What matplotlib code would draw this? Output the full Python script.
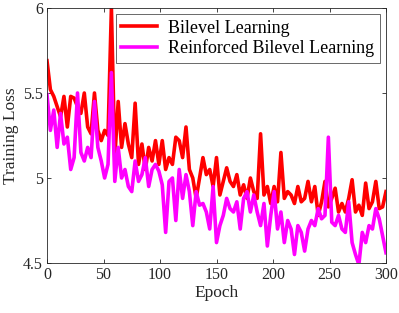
import matplotlib
matplotlib.use("Agg")
import matplotlib.pyplot as plt
import numpy as np

epochs = list(range(0, 301, 3))
bilevel = [5.69, 5.52, 5.48, 5.42, 5.36, 5.48, 5.30, 5.48, 5.47, 5.42,
           5.38, 5.50, 5.30, 5.26, 5.50, 5.28, 5.22, 5.28, 5.25, 6.00,
           5.12, 5.45, 5.18, 5.32, 5.20, 5.12, 5.44, 5.08, 5.20, 5.05,
           5.18, 5.10, 5.22, 5.08, 5.22, 5.05, 5.12, 5.08, 5.24, 5.22,
           5.12, 5.30, 5.05, 5.00, 4.88, 5.00, 5.12, 5.02, 5.05, 4.95,
           5.12, 4.90, 4.98, 5.06, 4.98, 4.95, 5.02, 4.90, 4.96, 4.88,
           5.00, 4.92, 4.88, 5.26, 4.90, 4.95, 4.85, 4.95, 4.86, 5.15,
           4.88, 4.92, 4.90, 4.85, 4.95, 4.86, 4.88, 4.98, 4.86, 4.95,
           4.78, 4.86, 4.98, 4.83, 4.88, 4.94, 4.80, 4.85, 4.80, 4.88,
           4.99, 4.80, 4.84, 4.78, 4.97, 4.82, 4.86, 4.98, 4.82, 4.83,
           4.92]
reinforced = [5.49, 5.28, 5.40, 5.18, 5.38, 5.20, 5.24, 5.05, 5.12, 5.50,
              5.15, 5.10, 5.18, 5.12, 5.45, 5.18, 5.10, 5.00, 5.08, 5.62,
              4.98, 5.18, 5.00, 5.05, 4.95, 4.92, 5.10, 4.98, 5.02, 5.12,
              4.95, 5.05, 5.08, 5.04, 4.96, 4.68, 4.98, 5.00, 4.75, 5.05,
              4.88, 5.02, 4.92, 4.72, 4.92, 4.84, 4.85, 4.80, 4.70, 4.95,
              4.62, 4.72, 4.78, 4.88, 4.82, 4.80, 4.86, 4.70, 4.88, 4.92,
              4.80, 4.90, 4.80, 4.72, 4.85, 4.60, 4.78, 4.92, 4.70, 4.80,
              4.62, 4.75, 4.70, 4.55, 4.72, 4.68, 4.57, 4.70, 4.75, 4.72,
              4.82, 4.76, 4.78, 5.24, 4.74, 4.72, 4.78, 4.70, 4.68, 4.86,
              4.62, 4.55, 4.49, 4.68, 4.62, 4.72, 4.70, 4.82, 4.76, 4.66,
              4.56]
x_ticks = [0, 50, 100, 150, 200, 250, 300]
y_ticks = [4.5, 5, 5.5, 6]
y_tick_labels = ["4.5", "5", "5.5", "6"]

plt.rcParams['font.family'] = ['Liberation Serif', 'DejaVu Serif']
plt.rcParams['mathtext.fontset'] = 'stix'

fig = plt.figure(figsize=(3.99, 3.13), dpi=100)
ax = fig.add_axes([47/399, 1-263/313, (386-47)/399, (263-8)/313])

ax.plot(epochs, bilevel, color='#ff0000', lw=2.6, label='Bilevel Learning')
ax.plot(epochs, reinforced, color='#ff00ff', lw=2.6, label='Reinforced Bilevel Learning')

ax.set_xlim(0, 300)
ax.set_ylim(4.5, 6)
ax.set_xticks(x_ticks)
ax.set_yticks(y_ticks)
ax.set_yticklabels(y_tick_labels)
axcol = '#262626'
ax.tick_params(direction='in', top=True, right=True, labelsize=11.5, colors=axcol,
               length=3, width=0.6, pad=3)
for s in ax.spines.values():
    s.set_color(axcol)
    s.set_linewidth(0.6)
ax.set_xlabel('Epoch', fontsize=12.5, color=axcol, labelpad=1)
ax.set_ylabel('Training Loss', fontsize=12.5, color=axcol, labelpad=3)

leg = ax.legend(loc='upper right', fontsize=13, frameon=True, fancybox=False,
                edgecolor=axcol, handlelength=2.0, borderaxespad=0.35,
                borderpad=0.3, labelspacing=0.15, handletextpad=0.6)
leg.get_frame().set_linewidth(0.6)

fig.savefig('out.png', dpi=100)
